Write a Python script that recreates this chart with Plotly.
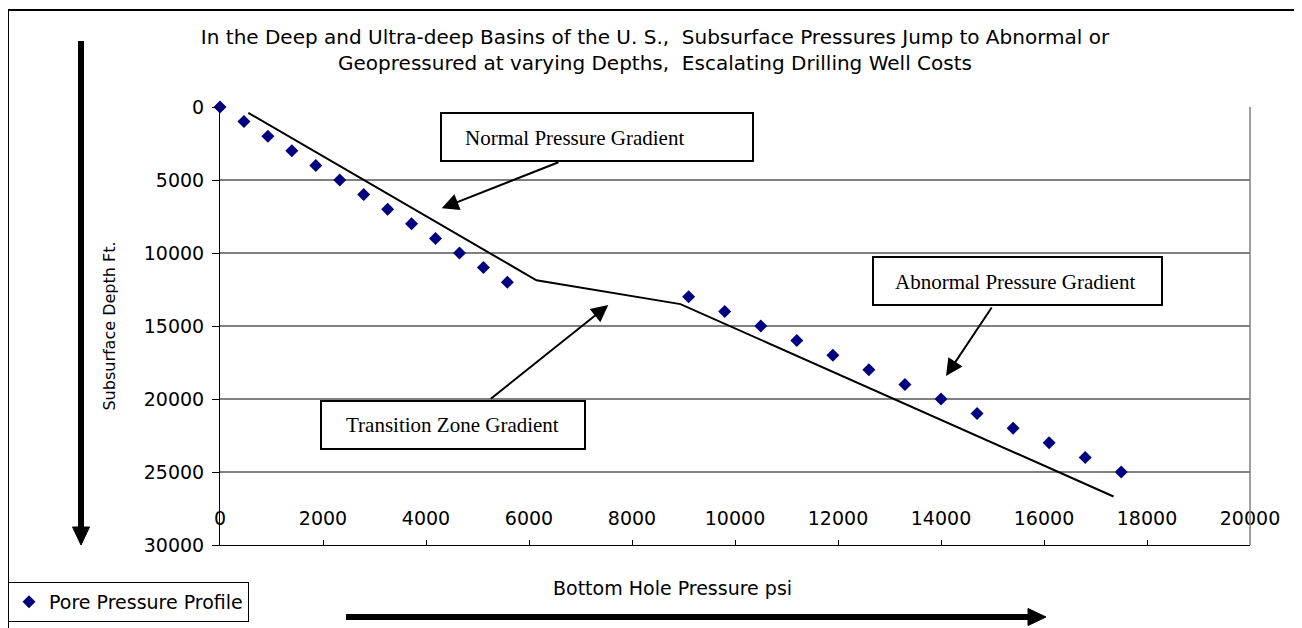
import plotly.graph_objects as go

# ---------------- data ----------------
depth_shallow = [0, 1000, 2000, 3000, 4000, 5000, 6000, 7000, 8000, 9000, 10000, 11000, 12000]
psi_shallow = [0, 465, 930, 1395, 1860, 2325, 2790, 3255, 3720, 4185, 4650, 5115, 5580]
depth_deep = [13000, 14000, 15000, 16000, 17000, 18000, 19000, 20000, 21000, 22000, 23000, 24000, 25000]
psi_deep = [9100, 9800, 10500, 11200, 11900, 12600, 13300, 14000, 14700, 15400, 16100, 16800, 17500]

gradient_psi = [550, 6145, 8940, 17350]
gradient_depth = [400, 11870, 13500, 26680]

x_ticks = [0, 2000, 4000, 6000, 8000, 10000, 12000, 14000, 16000, 18000, 20000]
y_ticks = [0, 5000, 10000, 15000, 20000, 25000, 30000]

title_text = ("In the Deep and Ultra-deep Basins of the U. S.,  Subsurface Pressures Jump to Abnormal or"
              "<br>Geopressured at varying Depths,  Escalating Drilling Well Costs")
series_name = "Pore Pressure Profile"
x_title = "Bottom Hole Pressure psi"
y_title = "Subsurface Depth Ft."
callouts = ["Normal Pressure Gradient", "Transition Zone Gradient", "Abnormal Pressure Gradient"]

# ---------------- layout geometry (screen pixels; page body has an 8px margin) ----------------
PAGE = 8
FW, FH = 1302 - PAGE, 628 - PAGE
L, T, W, H = 220, 107, 1030, 438   # plot area on screen


def px(x):
    return (x - L) / W


def py(y):
    return (T + H - y) / H


SANS = "DejaVu Sans"
SERIF = "Liberation Serif"
NAVY = "#000080"

all_psi = psi_shallow + psi_deep
all_depth = depth_shallow + depth_deep

fig = go.Figure()
fig.add_trace(go.Scatter(
    x=gradient_psi, y=gradient_depth, mode="lines",
    line=dict(color="black", width=2), showlegend=False, hoverinfo="skip",
))
fig.add_trace(go.Scatter(
    x=all_psi, y=all_depth, mode="markers", name=series_name,
    marker=dict(symbol="diamond", size=10, color=NAVY, line=dict(width=0)),
    cliponaxis=False,
))

shapes = []
# outer frame
shapes.append(dict(type="rect", xref="paper", yref="paper",
                   x0=px(8), x1=px(1330), y0=py(660), y1=py(10),
                   line=dict(color="black", width=2), layer="below"))
# right plot border
shapes.append(dict(type="line", xref="paper", yref="paper",
                   x0=1, x1=1, y0=0, y1=1, line=dict(color="#808080", width=1.5)))
# callout boxes
for (x0, y0, x1, y1) in [(441, 113, 753, 161), (321, 401, 585, 449), (873, 257, 1162, 305)]:
    shapes.append(dict(type="rect", xref="paper", yref="paper",
                       x0=px(x0), x1=px(x1), y0=py(y1), y1=py(y0),
                       line=dict(color="black", width=2), fillcolor="white", layer="above"))
# big vertical arrow
shapes.append(dict(type="line", xref="paper", yref="paper",
                   x0=px(81), x1=px(81), y0=py(530), y1=py(41),
                   line=dict(color="black", width=6)))
shapes.append(dict(type="path", xref="paper", yref="paper",
                   path=f"M {px(72.5)} {py(527)} L {px(89.5)} {py(527)} L {px(81)} {py(545)} Z",
                   fillcolor="black", line=dict(color="black", width=1)))
# big horizontal arrow
shapes.append(dict(type="line", xref="paper", yref="paper",
                   x0=px(346), x1=px(1030), y0=py(617), y1=py(617),
                   line=dict(color="black", width=6)))
shapes.append(dict(type="path", xref="paper", yref="paper",
                   path=f"M {px(1028)} {py(608.5)} L {px(1028)} {py(625.5)} L {px(1046)} {py(617)} Z",
                   fillcolor="black", line=dict(color="black", width=1)))

annotations = []
for text, (cx, cy) in zip(callouts, [(574, 138), (452, 425), (1015, 282)]):
    annotations.append(dict(text=text, xref="paper", yref="paper", x=px(cx), y=py(cy),
                            xanchor="center", yanchor="middle", showarrow=False,
                            font=dict(family=SERIF, size=21, color="black")))
for (tipx, tipy, tailx, taily) in [(441.7, 208.3, 560, 161.7), (608.3, 305, 489.3, 400), (946, 376, 992.7, 306)]:
    annotations.append(dict(text="", xref="paper", yref="paper", x=px(tipx), y=py(tipy),
                            ax=tailx - tipx, ay=taily - tipy, showarrow=True,
                            arrowhead=2, arrowsize=1.7, arrowwidth=2, arrowcolor="black"))
annotations.append(dict(text=x_title, xref="paper", yref="paper", x=px(672), y=py(588),
                        xanchor="center", yanchor="middle", showarrow=False,
                        font=dict(family=SANS, size=19, color="black")))

fig.update_layout(
    width=FW, height=FH,
    margin=dict(l=L - PAGE, r=FW - (L - PAGE) - W, t=T - PAGE, b=FH - (T - PAGE) - H, autoexpand=False),
    paper_bgcolor="white", plot_bgcolor="white",
    title=dict(text=title_text, x=(655 - PAGE) / FW, xanchor="center", xref="container",
               y=1 - 36 / FH, yanchor="top", yref="container",
               font=dict(family=SANS, size=20, color="black")),
    xaxis=dict(range=[0, 20000], tickvals=x_ticks, ticktext=[str(v) for v in x_ticks],
               ticks="inside", ticklen=5, tickcolor="black", showgrid=False,
               showline=True, linecolor="black", linewidth=1, zeroline=False,
               ticklabelposition="inside", ticklabelstandoff=12, ticklabeloverflow="allow",
               tickfont=dict(family=SANS, size=19, color="black")),
    yaxis=dict(range=[30000, 0], tickvals=y_ticks, ticktext=[str(v) for v in y_ticks],
               ticks="outside", ticklen=7, tickcolor="black",
               showgrid=True, gridcolor="#808080", gridwidth=1.5,
               showline=True, linecolor="black", linewidth=1, zeroline=False,
               ticklabelstandoff=4,
               tickfont=dict(family=SANS, size=19, color="black"),
               title=dict(text=y_title, standoff=24, font=dict(family=SANS, size=16, color="black"))),
    showlegend=True,
    legend=dict(x=px(8), y=py(582), xanchor="left", yanchor="top",
                xref="paper", yref="paper",
                bordercolor="black", borderwidth=1, bgcolor="white",
                font=dict(family=SANS, size=19, color="black"), itemwidth=30),
    shapes=shapes, annotations=annotations,
)

fig.write_html("out.html")
